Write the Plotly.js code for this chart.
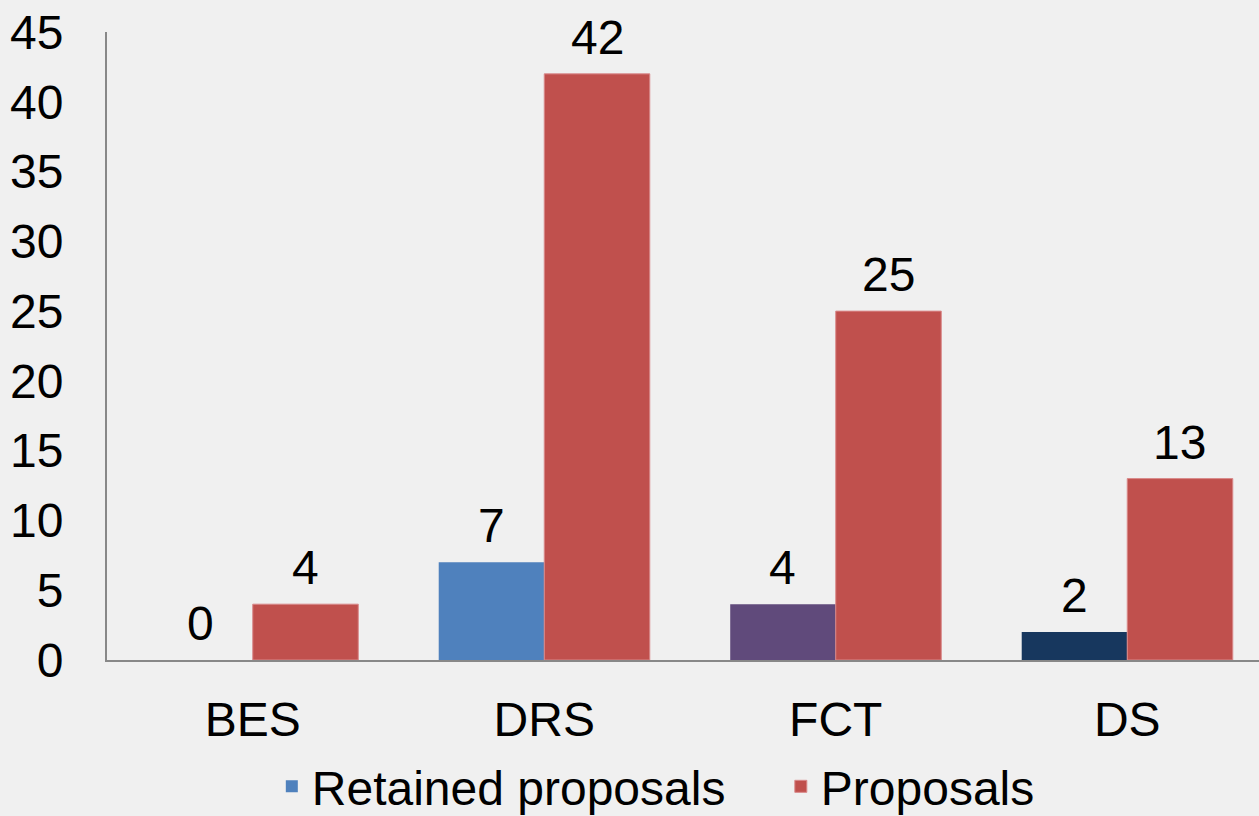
<!DOCTYPE html>
<html><head><meta charset="utf-8">
<script src="https://cdn.plot.ly/plotly-3.0.1.min.js"></script>
<style>html,body{margin:0;padding:0;background:#f0f0f0;}#chart{width:1259px;height:816px;}</style>
</head><body><div id="chart"></div>
<script>
const categories = ["BES", "DRS", "FCT", "DS"];
const retained = [0, 7, 4, 2];
const proposals = [4, 42, 25, 13];
const retainedColors = ["#4f81bd", "#4f81bd", "#604a7b", "#17375e"];
const proposalColor = "#c0504d";
const seriesNames = ["Retained proposals", "Proposals"];

const FONT = "Liberation Sans, Arial, sans-serif";
const FS = 48;

const traces = [
  {type: "bar", name: seriesNames[0], x: categories, y: retained,
   marker: {color: retainedColors}, hoverinfo: "x+y"},
  {type: "bar", name: seriesNames[1], x: categories, y: proposals,
   marker: {color: proposalColor, line: {color: "#d9898a", width: 1}}, hoverinfo: "x+y"}
];

// value labels, placed at each bar's data coordinates
const HALF = 52.75;
const annotations = [];
[[retained, -HALF], [proposals, HALF]].forEach(([vals, dx]) => {
  vals.forEach((v, i) => {
    annotations.push({x: categories[i], y: v, xref: "x", yref: "y", text: String(v),
      showarrow: false, xanchor: "center", yanchor: "bottom", xshift: dx, yshift: 8,
      font: {size: FS, family: FONT, color: "#000"}});
  });
});

const layout = {
  width: 1259, height: 816,
  paper_bgcolor: "#f0f0f0", plot_bgcolor: "#f0f0f0",
  font: {family: FONT, size: FS, color: "#000"},
  margin: {l: 107, r: 0, t: 32, b: 156},
  barmode: "group", bargap: 0.276, bargroupgap: 0,
  xaxis: {range: [-0.5, 3.452], showgrid: false, showline: true, linecolor: "#888", linewidth: 2,
          ticks: "", ticklabelstandoff: 16, tickfont: {size: FS, family: FONT}, fixedrange: true},
  yaxis: {range: [0, 45], dtick: 5, showgrid: false, zeroline: false, showline: true, linecolor: "#888", linewidth: 2,
          ticks: "", ticklabelstandoff: 32, tickfont: {size: FS, family: FONT}, fixedrange: true},
  showlegend: true,
  legend: {orientation: "h", xref: "container", yref: "container", x: 0.2159, xanchor: "left",
           y: 0.036, yanchor: "middle", entrywidth: 464, entrywidthmode: "pixels",
           font: {size: FS, family: FONT}, bgcolor: "rgba(0,0,0,0)", itemclick: false},
  annotations: annotations
};

Plotly.newPlot("chart", traces, layout, {displayModeBar: false, staticPlot: true});
</script>
</body></html>
